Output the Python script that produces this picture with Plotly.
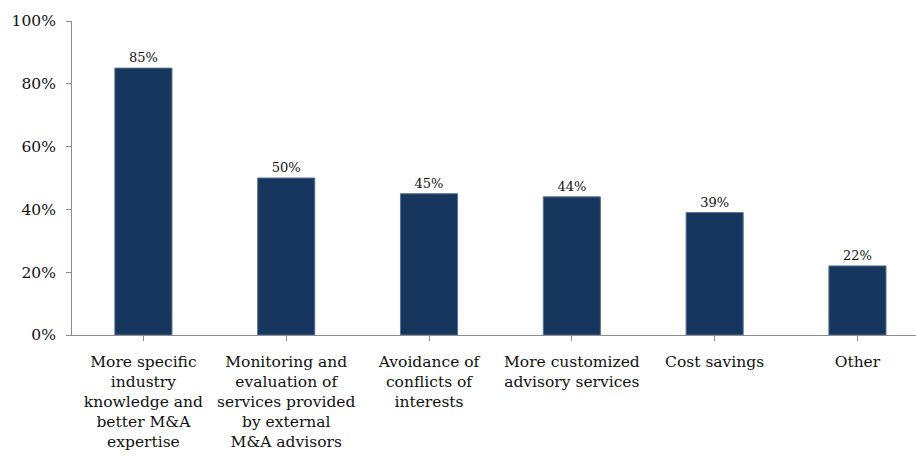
import plotly.graph_objects as go

categories = [
    "More specific<br>industry<br>knowledge and<br>better M&A<br>expertise",
    "Monitoring and<br>evaluation of<br>services provided<br>by external<br>M&A advisors",
    "Avoidance of<br>conflicts of<br>interests",
    "More customized<br>advisory services",
    "Cost savings",
    "Other",
]
values = [85, 50, 45, 44, 39, 22]
y_ticks = [0, 20, 40, 60, 80, 100]

FONT = "DejaVu Serif"
AXIS = "#8c8c8c"

fig = go.Figure(
    go.Bar(
        x=list(range(len(categories))),
        y=values,
        width=0.4,
        marker=dict(color="#17365d", line=dict(color="#5a7597", width=1)),
        text=[f"{v}%" for v in values],
        textposition="outside",
        textfont=dict(family=FONT, size=13, color="#111"),
        cliponaxis=False,
    )
)

fig.update_layout(
    width=916,
    height=457,
    margin=dict(l=72, r=0, t=21, b=122),
    paper_bgcolor="white",
    plot_bgcolor="white",
    showlegend=False,
    font=dict(family=FONT, size=14, color="#111"),
)

fig.update_xaxes(
    tickmode="array",
    tickvals=list(range(len(categories))),
    ticktext=categories,
    range=[-0.5, 5.41],
    tickson="boundaries",
    ticks="outside",
    ticklen=5,
    tickcolor=AXIS,
    showline=True,
    linecolor=AXIS,
    linewidth=1,
    showgrid=False,
    tickangle=0,
    tickfont=dict(family=FONT, size=15.5, color="#111"),
    ticklabelstandoff=7,
)

fig.update_yaxes(
    range=[0, 100],
    tickmode="array",
    tickvals=y_ticks,
    ticktext=[f"{t}%" for t in y_ticks],
    ticks="outside",
    ticklen=5,
    tickcolor=AXIS,
    showline=True,
    linecolor=AXIS,
    linewidth=1,
    showgrid=False,
    zeroline=False,
    tickfont=dict(family=FONT, size=15.5, color="#111"),
    ticklabelstandoff=7,
)

fig.write_html("out.html")
